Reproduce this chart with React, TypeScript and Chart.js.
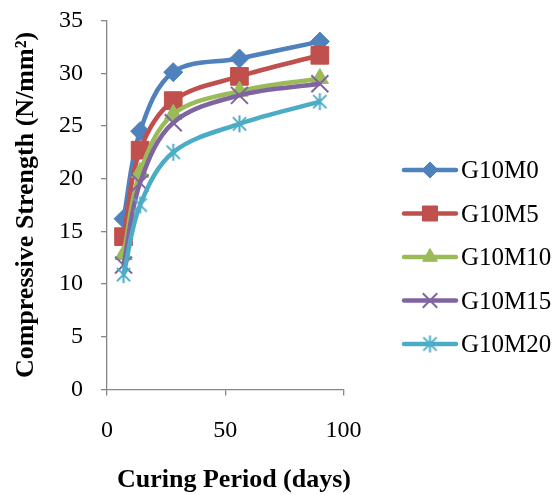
import React, { useEffect, useRef } from 'react';
import { Chart, registerables } from 'chart.js';
import { drawPoint } from 'chart.js/helpers';

Chart.register(...registerables);

// ---- data ----
const DAYS = [7, 14, 28, 56, 90];
const SERIES_NAMES = ['G10M0', 'G10M5', 'G10M10', 'G10M15', 'G10M20'];
const G10M0 = [16.2, 24.5, 30.1, 31.4, 33.0];
const G10M5 = [14.5, 22.7, 27.4, 29.7, 31.7];
const G10M10 = [12.8, 20.6, 26.1, 28.3, 29.5];
const G10M15 = [11.8, 19.6, 25.3, 27.9, 29.0];
const G10M20 = [10.9, 17.5, 22.5, 25.2, 27.3];
const SERIES_VALUES = [G10M0, G10M5, G10M10, G10M15, G10M20];
const X_MIN = 0, X_MAX = 100, X_STEP = 50;
const Y_MIN = 0, Y_MAX = 35, Y_STEP = 5;
const X_TITLE = 'Curing Period (days)';
const Y_TITLE = 'Compressive Strength (N/mm²)';

// ---- styles ----
const COLORS = ['#4F81BD', '#C0504D', '#9BBB59', '#8064A2', '#4BACC6'];
const SERIF = '"Liberation Serif", "Times New Roman", serif';
const AXIS_GRAY = '#868686';

function makeStar(color: string, size: number, lw: number) {
  const c = document.createElement('canvas');
  c.width = size;
  c.height = size;
  const g = c.getContext('2d')!;
  g.strokeStyle = color;
  g.lineWidth = lw;
  const h = size / 2;
  const r = h - 1;
  const d = r * 0.78;
  g.beginPath();
  g.moveTo(h, h - r);
  g.lineTo(h, h + r);
  g.moveTo(h - d, h - d);
  g.lineTo(h + d, h + d);
  g.moveTo(h + d, h - d);
  g.lineTo(h - d, h + d);
  g.stroke();
  return c;
}

export default function App() {
  const ref = useRef<HTMLCanvasElement | null>(null);

  useEffect(() => {
    if (!ref.current) return;
    const star = makeStar(COLORS[4], 19, 2);
    const markers: any[] = [
      { pointStyle: 'rectRot', radius: 9.5, borderWidth: 1 },
      { pointStyle: 'rect', radius: 12.5, borderWidth: 1 },
      { pointStyle: 'triangle', radius: 10, borderWidth: 1 },
      { pointStyle: 'crossRot', radius: 12, borderWidth: 2 },
      { pointStyle: star, radius: 9, borderWidth: 2 },
    ];

    const datasets = SERIES_NAMES.map((name, i) => ({
      label: name,
      data: DAYS.map((d, j) => ({ x: d, y: SERIES_VALUES[i][j] })),
      borderColor: COLORS[i],
      backgroundColor: COLORS[i],
      borderWidth: 4.5,
      tension: 0.35,
      pointStyle: markers[i].pointStyle,
      pointRadius: markers[i].radius,
      pointBorderWidth: markers[i].borderWidth,
      pointBackgroundColor: COLORS[i],
      pointBorderColor: COLORS[i],
      order: SERIES_NAMES.length - i,
      clip: 20,
    }));

    const sidePlugin = {
      id: 'sideLegendAndTitle',
      afterDraw(chart: any) {
        const ctx = chart.ctx as CanvasRenderingContext2D;
        ctx.save();
        // x-axis title
        ctx.fillStyle = '#000';
        ctx.font = `bold 26px ${SERIF}`;
        ctx.textAlign = 'center';
        ctx.textBaseline = 'middle';
        ctx.fillText(X_TITLE, 234, 480.5);
        // legend
        const top = 170;
        const step = 43.5;
        SERIES_NAMES.forEach((name, i) => {
          const y = top + i * step;
          ctx.strokeStyle = COLORS[i];
          ctx.lineWidth = 4.5;
          ctx.lineCap = 'round';
          ctx.beginPath();
          ctx.moveTo(404, y);
          ctx.lineTo(456, y);
          ctx.stroke();
          ctx.fillStyle = COLORS[i];
          ctx.strokeStyle = COLORS[i];
          ctx.lineWidth = markers[i].borderWidth;
          ctx.lineCap = 'butt';
          drawPoint(ctx, {
            pointStyle: markers[i].pointStyle,
            radius: markers[i].radius * 0.85,
            borderWidth: markers[i].borderWidth,
            rotation: 0,
          } as any, 430, y);
          ctx.fillStyle = '#000';
          ctx.font = `25px ${SERIF}`;
          ctx.textAlign = 'left';
          ctx.textBaseline = 'middle';
          ctx.fillText(name, 461, y + 1.5);
        });
        ctx.restore();
      },
    };

    const chart = new Chart(ref.current, {
      type: 'line',
      data: { datasets },
      options: {
        animation: false,
        responsive: false,
        maintainAspectRatio: false,
        layout: { padding: { top: 20.5, right: 216.5, left: 0, bottom: 0 } },
        plugins: {
          legend: { display: false },
          tooltip: { enabled: false },
        },
        scales: {
          x: {
            type: 'linear',
            min: X_MIN,
            max: X_MAX,
            afterFit(scale: any) {
              scale.height = 105.5;
              scale.paddingLeft = 0;
              scale.paddingRight = 0;
            },
            ticks: {
              stepSize: X_STEP,
              color: '#000',
              font: { family: SERIF, size: 24 },
              padding: 21,
              maxRotation: 0,
            },
            grid: {
              drawOnChartArea: false,
              drawTicks: true,
              tickLength: 6,
              color: AXIS_GRAY,
              lineWidth: 1.3,
            },
            border: { color: AXIS_GRAY, width: 1.3 },
            title: { display: false, text: X_TITLE },
          },
          y: {
            type: 'linear',
            min: Y_MIN,
            max: Y_MAX,
            afterFit(scale: any) {
              scale.width = 107;
              scale.paddingTop = 0;
              scale.paddingBottom = 0;
            },
            ticks: {
              stepSize: Y_STEP,
              color: '#000',
              font: { family: SERIF, size: 24 },
              padding: 18,
            },
            grid: {
              drawOnChartArea: false,
              drawTicks: true,
              tickLength: 6,
              color: AXIS_GRAY,
              lineWidth: 1.3,
            },
            border: { color: AXIS_GRAY, width: 1.3 },
            title: {
              display: true,
              text: Y_TITLE,
              color: '#000',
              font: { family: SERIF, size: 26, weight: 'bold' },
              padding: { top: 11, bottom: 0 },
            },
          },
        },
      },
      plugins: [sidePlugin],
    });
    return () => chart.destroy();
  }, []);

  return (
    <div style={{ position: 'fixed', left: 0, top: 0, width: 560, height: 495, background: '#fff' }}>
      <canvas ref={ref} width={560} height={495} style={{ display: 'block' }} />
    </div>
  );
}
